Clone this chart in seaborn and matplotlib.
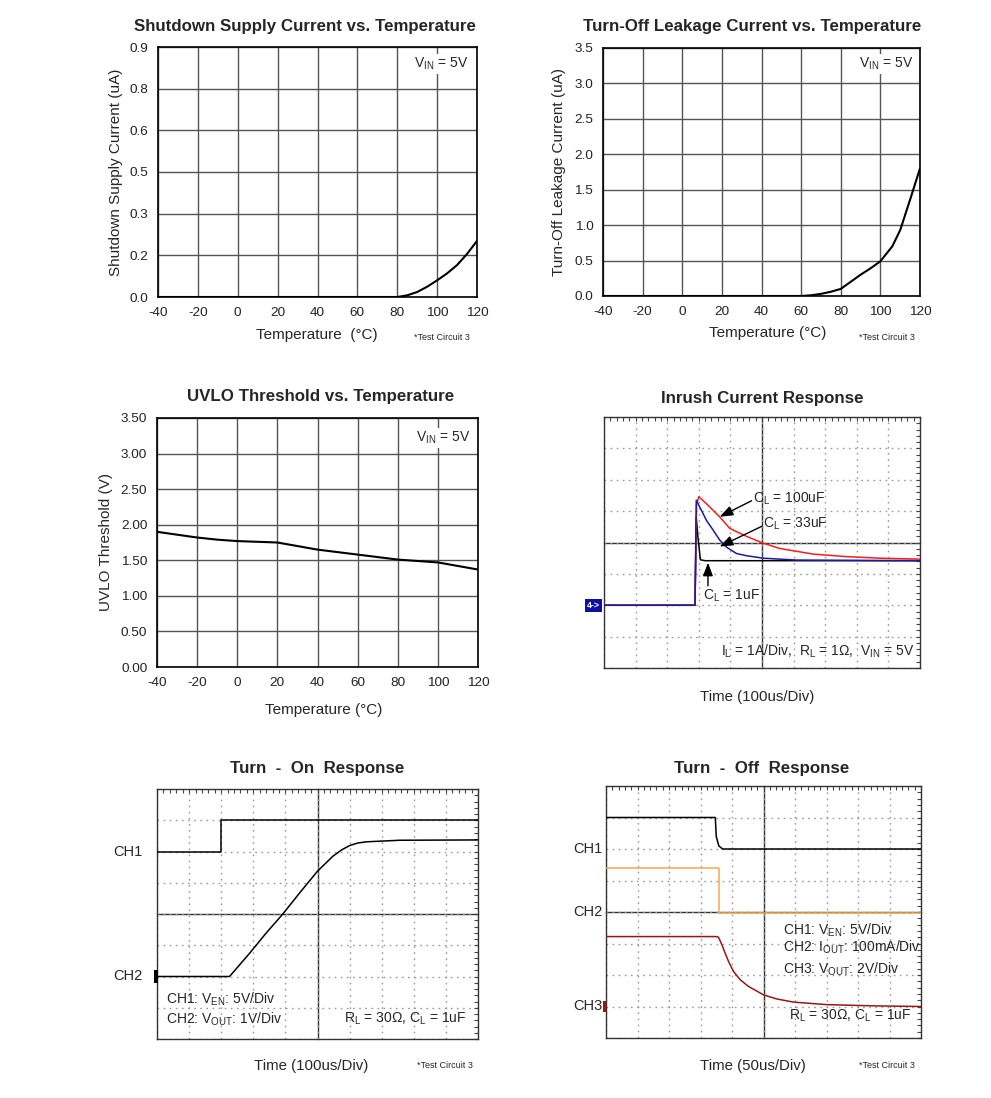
import matplotlib
matplotlib.use("Agg")
import matplotlib.pyplot as plt
from matplotlib.patches import Rectangle
from matplotlib.ticker import MultipleLocator
import seaborn as sns

sns.set_style("white")
plt.rcParams["font.family"] = ["Liberation Sans", "DejaVu Sans"]
plt.rcParams["mathtext.fontset"] = "custom"
plt.rcParams["mathtext.rm"] = "Liberation Sans"
plt.rcParams["mathtext.it"] = "Liberation Sans:italic"
plt.rcParams["mathtext.bf"] = "Liberation Sans:bold"

W, H = 991, 1098

# ---------- temperature sweeps ----------
temp_ticks = [-40, -20, 0, 20, 40, 60, 80, 100, 120]

shdn_temp = [-40, 0, 40, 80, 85, 90, 95, 100, 105, 110, 115, 120]
shdn_ua = [0, 0, 0, 0, 0.006, 0.018, 0.037, 0.06, 0.085, 0.115, 0.155, 0.202]
shdn_yticks = [0, 0.15, 0.30, 0.45, 0.60, 0.75, 0.90]
shdn_ylabels = ["0.0", "0.2", "0.3", "0.5", "0.6", "0.8", "0.9"]

leak_temp = [-40, 0, 60, 65, 70, 75, 80, 85, 90, 95, 100, 106, 110, 115, 120]
leak_ua = [0, 0, 0, 0.01, 0.03, 0.06, 0.1, 0.2, 0.3, 0.39, 0.49, 0.7, 0.93, 1.36, 1.8]
leak_yticks = [0, 0.5, 1.0, 1.5, 2.0, 2.5, 3.0, 3.5]
leak_ylabels = ["0.0", "0.5", "1.0", "1.5", "2.0", "2.5", "3.0", "3.5"]

uvlo_temp = [-40, -30, -20, -10, 0, 10, 20, 30, 40, 60, 80, 100, 110, 120]
uvlo_v = [1.90, 1.86, 1.82, 1.79, 1.77, 1.76, 1.75, 1.70, 1.65, 1.58, 1.51, 1.47, 1.42, 1.37]
uvlo_yticks = [0, 0.5, 1.0, 1.5, 2.0, 2.5, 3.0, 3.5]
uvlo_ylabels = ["0.00", "0.50", "1.00", "1.50", "2.00", "2.50", "3.00", "3.50"]

# ---------- scope captures (x, y in divisions) ----------
inr_1u_x = [0, 2.88, 2.92, 2.97, 3.05, 3.2, 10]
inr_1u_y = [2.0, 2.0, 4.80, 4.2, 3.45, 3.42, 3.42]
inr_100u_x = [0, 2.88, 2.93, 3.0, 3.24, 3.45, 3.66, 3.98, 4.5, 4.98, 5.56, 6.62, 7.68, 8.73, 10]
inr_100u_y = [2.0, 2.0, 5.2, 5.46, 5.24, 5.03, 4.82, 4.45, 4.2, 4.0, 3.81, 3.63, 3.55, 3.5, 3.47]
inr_33u_x = [0, 2.88, 2.92, 3.08, 3.24, 3.45, 3.66, 3.88, 4.19, 4.5, 5.04, 6.09, 10]
inr_33u_y = [2.0, 2.0, 5.35, 5.03, 4.71, 4.4, 4.08, 3.85, 3.65, 3.58, 3.5, 3.44, 3.42]

on_ch1_x = [0, 2.0, 2.0, 10]
on_ch1_y = [6.0, 6.0, 7.0, 7.0]
on_ch2_x = [0, 2.26, 2.89, 3.4, 3.92, 4.44, 5.0, 5.25, 5.48, 5.75, 6.0, 6.25, 6.52, 7.56, 10]
on_ch2_y = [2.0, 2.0, 2.75, 3.39, 4.0, 4.67, 5.37, 5.62, 5.85, 6.05, 6.19, 6.27, 6.31, 6.36, 6.37]

off_ch1_x = [0, 3.47, 3.5, 3.58, 3.7, 10]
off_ch1_y = [7.0, 7.0, 6.4, 6.1, 6.0, 6.0]
off_ch2_x = [0, 3.6, 3.6, 10]
off_ch2_y = [5.41, 5.41, 3.96, 3.96]
off_ch3_x = [0, 3.5, 3.57, 3.68, 3.78, 3.89, 4.05, 4.26, 4.52, 5.0, 5.42, 5.95, 7.0, 8.5, 10]
off_ch3_y = [3.22, 3.22, 3.2, 2.96, 2.70, 2.43, 2.11, 1.85, 1.64, 1.37, 1.24, 1.14, 1.06, 1.02, 1.0]

VIN = r"V$_\mathrm{IN}$ = 5V"

fig = plt.figure(figsize=(W / 100, H / 100), dpi=100)


def rect_px(x0, y0, x1, y1):
    return [x0 / W, 1 - y1 / H, (x1 - x0) / W, (y1 - y0) / H]


def fig_text(x, y, s, **kw):
    kw.setdefault("ha", "center")
    kw.setdefault("va", "center")
    fig.text(x / W, 1 - y / H, s, **kw)


def temp_panel(rect, temps, vals, yticks, ylabels, ylim, ylabel, lab_x, vin_xy):
    ax = fig.add_axes(rect)
    sns.lineplot(x=temps, y=vals, ax=ax, color="black", linewidth=1.5,
                 sort=False, estimator=None, zorder=3)
    ax.set_xlim(-40, 120)
    ax.set_ylim(*ylim)
    ax.set_xticks(temp_ticks)
    ax.set_xticklabels([str(t) for t in temp_ticks])
    ax.set_yticks(yticks)
    ax.set_yticklabels(ylabels)
    ax.grid(True, color="#555555", linewidth=1.0)
    ax.set_axisbelow(True)
    ax.tick_params(length=0, labelsize=9.7, pad=7, colors="#222222")
    ax.set_ylabel(ylabel, fontsize=11)
    ax.yaxis.set_label_coords(lab_x, 0.5)
    ax.set_xlabel("")
    ax.text(*vin_xy, VIN, transform=ax.transAxes, ha="right", va="center",
            fontsize=10, zorder=4,
            bbox=dict(facecolor="white", edgecolor="none", pad=1.5))
    for s in ax.spines.values():
        s.set_color("black")
        s.set_linewidth(1.2)
    return ax


def scope_panel(rect):
    ax = fig.add_axes(rect)
    ax.set_xlim(0, 10)
    ax.set_ylim(0, 8)
    for axis in (ax.xaxis, ax.yaxis):
        axis.set_major_locator(MultipleLocator(1))
        axis.set_minor_locator(MultipleLocator(0.2))
    ax.tick_params(which="both", direction="in", length=3, width=0.8,
                   top=True, right=True, labelbottom=False, labelleft=False,
                   color="#444444")
    ax.grid(which="major", color="#999999", linestyle=(0, (1.2, 3.2)), linewidth=1.0)
    for s in ax.spines.values():
        s.set_linewidth(1.0)
        s.set_color("#333333")
    # centre crosshair with division ticks
    cx = fig.add_axes(rect)
    cx.set_xlim(0, 10)
    cx.set_ylim(0, 8)
    cx.patch.set_visible(False)
    cx.spines["top"].set_visible(False)
    cx.spines["right"].set_visible(False)
    cx.spines["left"].set_position(("data", 5))
    cx.spines["bottom"].set_position(("data", 4))
    for s in ("left", "bottom"):
        cx.spines[s].set_color("#333333")
        cx.spines[s].set_linewidth(1.0)
    for axis in (cx.xaxis, cx.yaxis):
        axis.set_major_locator(MultipleLocator(1))
        axis.set_minor_locator(MultipleLocator(0.2))
    cx.tick_params(which="both", direction="inout", length=5, width=0.8,
                   labelbottom=False, labelleft=False, color="#333333")
    cx.set_zorder(ax.get_zorder() - 1)
    ax.patch.set_visible(False)
    return ax


def trace(ax, x, y, color, lw=1.1):
    sns.lineplot(x=x, y=y, ax=ax, color=color, linewidth=lw, sort=False,
                 estimator=None, zorder=3)


# ---------- Shutdown supply current ----------
ax1 = temp_panel(rect_px(158, 47, 477, 297), shdn_temp, shdn_ua, shdn_yticks,
                 shdn_ylabels, (0, 0.9), "Shutdown Supply Current (uA)", -0.11,
                 (0.972, 0.932))
fig_text(305, 26, "Shutdown Supply Current vs. Temperature", fontsize=12.2, fontweight="bold")
fig_text(317, 335, "Temperature  (°C)", fontsize=11)
fig_text(442, 337, "*Test Circuit 3", fontsize=6.5)

# ---------- Turn-off leakage ----------
ax2 = temp_panel(rect_px(603, 48, 920, 296), leak_temp, leak_ua, leak_yticks,
                 leak_ylabels, (0, 3.5), "Turn-Off Leakage Current (uA)", -0.117,
                 (0.978, 0.935))
fig_text(752, 27, "Turn-Off Leakage Current vs. Temperature", fontsize=12.2, fontweight="bold")
fig_text(768, 333, "Temperature (°C)", fontsize=11)
fig_text(887, 337, "*Test Circuit 3", fontsize=6.5)

# ---------- UVLO threshold ----------
ax3 = temp_panel(rect_px(157, 418, 478, 667), uvlo_temp, uvlo_v, uvlo_yticks,
                 uvlo_ylabels, (0, 3.5), "UVLO Threshold (V)", -0.138,
                 (0.975, 0.92))
fig_text(321, 397, "UVLO Threshold vs. Temperature", fontsize=12.2, fontweight="bold")
fig_text(324, 710, "Temperature (°C)", fontsize=11)

# ---------- Inrush current ----------
ax4 = scope_panel(rect_px(604, 417, 920, 668))
trace(ax4, inr_1u_x, inr_1u_y, "black")
trace(ax4, inr_100u_x, inr_100u_y, "#ff1a1a")
trace(ax4, inr_33u_x, inr_33u_y, "#1a1aa8")
arrow = dict(arrowstyle="-|>,head_length=0.8,head_width=0.3", color="black",
             lw=1.0, shrinkA=0, shrinkB=0)
ax4.annotate("", xy=(3.66, 4.82), xytext=(4.67, 5.33), arrowprops=arrow)
ax4.annotate("", xy=(3.66, 3.87), xytext=(5.0, 4.52), arrowprops=arrow)
ax4.annotate("", xy=(3.29, 3.36), xytext=(3.29, 2.62), arrowprops=arrow)
ax4.text(4.72, 5.40, r"C$_\mathrm{L}$ = 100uF", fontsize=10, va="center")
ax4.text(5.02, 4.61, r"C$_\mathrm{L}$ = 33uF", fontsize=10, va="center")
ax4.text(3.14, 2.31, r"C$_\mathrm{L}$ = 1uF", fontsize=10, va="center")
ax4.text(9.84, 0.53, r"I$_\mathrm{L}$ = 1A/Div,  R$_\mathrm{L}$ = 1Ω,  V$_\mathrm{IN}$ = 5V",
         fontsize=10, va="center", ha="right")
ax4.text(-0.012, 2.0, "4->", transform=ax4.get_yaxis_transform(), ha="right",
         va="center", fontsize=6.3, color="white", fontweight="bold",
         bbox=dict(facecolor="#1010a0", edgecolor="none", pad=1.4))
fig_text(762, 398, "Inrush Current Response", fontsize=12.2, fontweight="bold")
fig_text(757, 697, "Time (100us/Div)", fontsize=10.8)

# ---------- Turn-on ----------
ax5 = scope_panel(rect_px(157, 789, 478, 1039))
trace(ax5, on_ch1_x, on_ch1_y, "black")
trace(ax5, on_ch2_x, on_ch2_y, "black")
ax5.text(-0.045, 6.0, "CH1", transform=ax5.get_yaxis_transform(), ha="right",
         va="center", fontsize=10.5)
ax5.text(-0.045, 2.0, "CH2", transform=ax5.get_yaxis_transform(), ha="right",
         va="center", fontsize=10.5)
ax5.add_patch(Rectangle((-0.01, 1.8), 0.013, 0.4, transform=ax5.get_yaxis_transform(),
                        facecolor="black", edgecolor="none", clip_on=False, zorder=5))
ax5.text(0.29, 1.26, r"CH1: V$_\mathrm{EN}$: 5V/Div", fontsize=10, va="center")
ax5.text(0.29, 0.64, r"CH2: V$_\mathrm{OUT}$: 1V/Div", fontsize=10, va="center")
ax5.text(9.64, 0.64, r"R$_\mathrm{L}$ = 30Ω, C$_\mathrm{L}$ = 1uF", fontsize=10,
         va="center", ha="right")
fig_text(317, 768, "Turn  -  On  Response", fontsize=12.2, fontweight="bold")
fig_text(311, 1066, "Time (100us/Div)", fontsize=10.8)
fig_text(445, 1065, "*Test Circuit 3", fontsize=6.5)

# ---------- Turn-off ----------
ax6 = scope_panel(rect_px(606, 786, 921, 1038))
trace(ax6, off_ch1_x, off_ch1_y, "black")
trace(ax6, off_ch2_x, off_ch2_y, "#f7a84e")
trace(ax6, off_ch3_x, off_ch3_y, "#9b1515")
for lvl, lab in [(6.0, "CH1"), (4.0, "CH2"), (1.0, "CH3")]:
    ax6.text(-0.012, lvl, lab, transform=ax6.get_yaxis_transform(), ha="right",
             va="center", fontsize=10.5)
ax6.add_patch(Rectangle((-0.008, 0.82), 0.008, 0.36, transform=ax6.get_yaxis_transform(),
                        facecolor="#9b1515", edgecolor="none", clip_on=False, zorder=5))
ax6.text(5.61, 3.41, r"CH1: V$_\mathrm{EN}$: 5V/Div", fontsize=10, va="center")
ax6.text(5.61, 2.87, r"CH2: I$_\mathrm{OUT}$: 100mA/Div", fontsize=10, va="center")
ax6.text(5.61, 2.19, r"CH3: V$_\mathrm{OUT}$: 2V/Div", fontsize=10, va="center")
ax6.text(9.7, 0.69, r"R$_\mathrm{L}$ = 30Ω, C$_\mathrm{L}$ = 1uF", fontsize=10,
         va="center", ha="right")
fig_text(762, 768, "Turn  -  Off  Response", fontsize=12.2, fontweight="bold")
fig_text(753, 1066, "Time (50us/Div)", fontsize=10.8)
fig_text(887, 1065, "*Test Circuit 3", fontsize=6.5)

fig.savefig("out.png", dpi=100, facecolor="white")
